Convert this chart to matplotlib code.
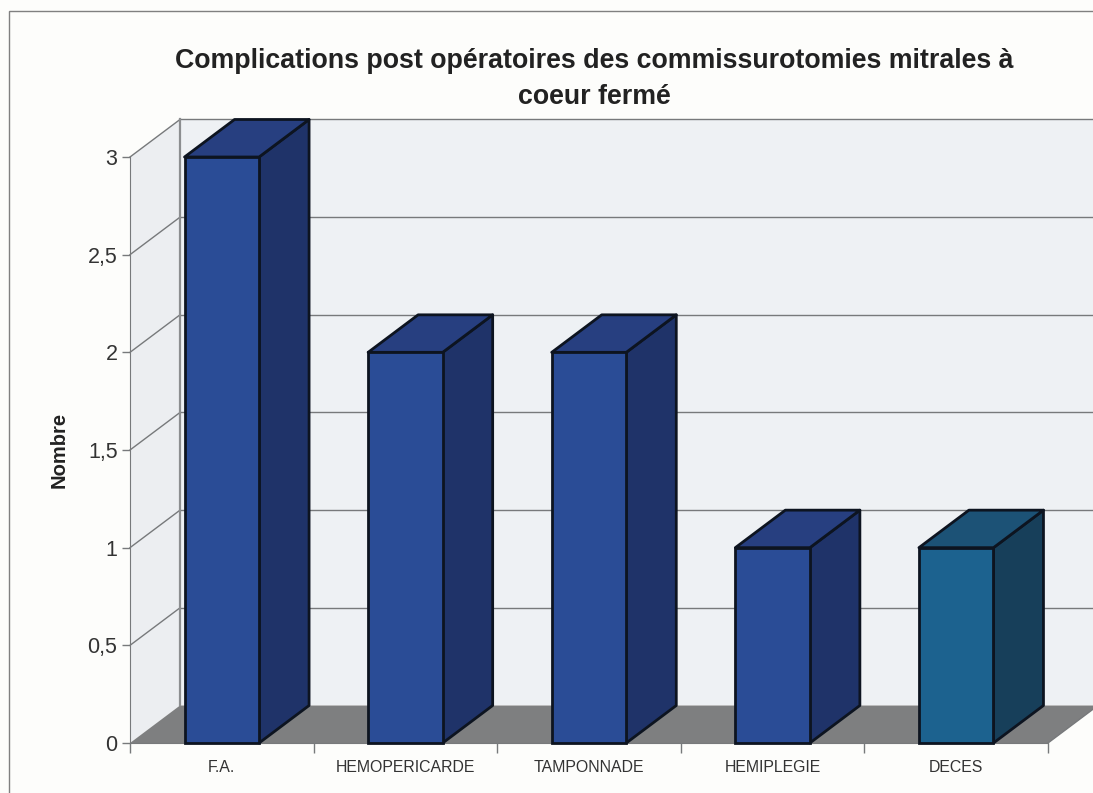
import matplotlib
matplotlib.use('Agg')
import matplotlib.pyplot as plt
from matplotlib.patches import Polygon, Rectangle
from matplotlib.ticker import FuncFormatter

categories = ['F.A.', 'HEMOPERICARDE', 'TAMPONNADE', 'HEMIPLEGIE', 'DECES']
values = [3, 2, 2, 1, 1]
y_ticks = [0, 0.5, 1, 1.5, 2, 2.5, 3]
title = 'Complications post opératoires des commissurotomies mitrales à\ncoeur fermé'
y_label = 'Nombre'

W, H = 1093, 793
# profondeur de la perspective, en unites de donnees
DX = 50 / 183.6
DY = 37.5 / 195.3
BAR_W = 0.406

FRONT = ['#2a4c96', '#2a4c96', '#2a4c96', '#2a4c96', '#1c628f']
SIDE = ['#1f3369', '#1f3369', '#1f3369', '#1f3369', '#173f5a']
TOP = ['#273f80', '#273f80', '#273f80', '#273f80', '#1c5276']
EDGE = '#0d1420'
GRID = '#77797b'
TEXT = '#333333'

plt.rcParams['font.family'] = ['Liberation Sans', 'DejaVu Sans']

fig = plt.figure(figsize=(W / 100, H / 100), dpi=100, facecolor='#fdfdfb')
ax = fig.add_axes([130 / W, (H - 743) / H, 918 / W, 586 / H])
ax.set_xlim(-0.5, 4.5)
ax.set_ylim(0, 3)
ax.patch.set_visible(False)


def poly(points, fc, ec='none', lw=0, z=1):
    ax.add_patch(Polygon(points, closed=True, facecolor=fc, edgecolor=ec,
                         linewidth=lw, zorder=z, clip_on=False, joinstyle='round'))


x0, x1 = -0.5, 4.5
x_far = x1 + 2 * DX
# murs et sol
poly([(x0, 0), (x0 + DX, DY), (x0 + DX, 3 + DY), (x0, 3)], '#eceef1')
poly([(x0 + DX, DY), (x_far, DY), (x_far, 3 + DY), (x0 + DX, 3 + DY)], '#eef1f4')
poly([(x0, 0), (x1, 0), (x1 + DX, DY), (x0 + DX, DY)], '#7e7f80')

# grille
for t in y_ticks[1:]:
    ax.plot([x0, x0 + DX], [t, t + DY], color=GRID, lw=1, zorder=2, clip_on=False)
    ax.plot([x0 + DX, x_far], [t + DY, t + DY], color=GRID, lw=1, zorder=2, clip_on=False)
ax.plot([x0 + DX, x0 + DX], [DY, 3 + DY], color='#8c8e90', lw=1.6, zorder=2, clip_on=False)
ax.plot([x1, x1 + DX], [0, DY], color=GRID, lw=1, zorder=2, clip_on=False)

# barres 3D
for i, v in enumerate(values):
    l, r = i - BAR_W / 2, i + BAR_W / 2
    poly([(r, 0), (r + DX, DY), (r + DX, v + DY), (r, v)], SIDE[i], EDGE, 2, 3)
    poly([(l, v), (r, v), (r + DX, v + DY), (l + DX, v + DY)], TOP[i], EDGE, 2, 3)
ax.bar(range(len(values)), values, width=BAR_W, color=FRONT, edgecolor=EDGE,
       linewidth=2, zorder=4, clip_on=False)

# axes
for side in ('top', 'right'):
    ax.spines[side].set_visible(False)
for side in ('left', 'bottom'):
    ax.spines[side].set_color(GRID)
    ax.spines[side].set_zorder(2.5)
ax.set_yticks(y_ticks)
ax.yaxis.set_major_formatter(FuncFormatter(lambda v, _: ('%g' % v).replace('.', ',')))
ax.tick_params(axis='y', length=6, width=1, color=GRID, labelcolor=TEXT,
               labelsize=15.5, pad=3)
ax.set_xticks([x - 0.5 for x in range(len(values) + 1)], minor=False)
ax.set_xticklabels([''] * (len(values) + 1))
ax.tick_params(axis='x', length=7, width=1, color=GRID)
ax.set_xticks(range(len(values)), labels=categories, minor=True)
ax.tick_params(axis='x', which='minor', length=0, labelsize=11.4, labelcolor=TEXT, pad=12.5)
ax.set_ylabel(y_label, fontsize=14.5, fontweight='bold', color='#222222', labelpad=0)
ax.yaxis.set_label_coords((69 - 130) / 918, (743 - 450) / 586)

fig.suptitle(title, x=594 / W, y=1 - 48.5 / H, va='top', fontsize=19.3,
             fontweight='bold', color='#222222', linespacing=1.5)

# cadre du graphique
fig.add_artist(Rectangle((9 / W, -0.1), 1.2, 0.1 + (H - 11) / H, fill=False,
                         edgecolor='#808080', linewidth=1, transform=fig.transFigure))

fig.savefig('out.png', dpi=100, facecolor=fig.get_facecolor())
